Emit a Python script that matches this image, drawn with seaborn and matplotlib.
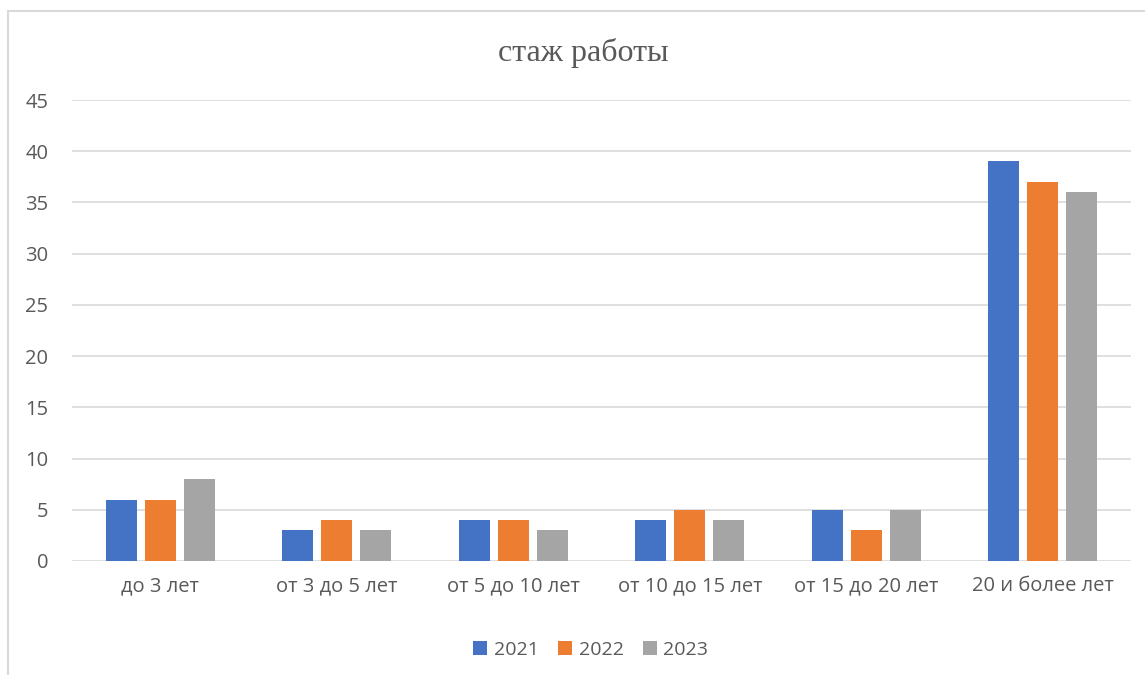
import pandas as pd
import matplotlib.pyplot as plt
import seaborn as sns
from matplotlib.patches import Rectangle

categories = ["до 3 лет", "от 3 до 5 лет", "от 5 до 10 лет",
              "от 10 до 15 лет", "от 15 до 20 лет", "20 и более лет"]
years = ["2021", "2022", "2023"]
v2021 = [6, 3, 4, 4, 5, 39]
v2022 = [6, 4, 4, 5, 3, 37]
v2023 = [8, 3, 3, 4, 5, 36]
colors = ["#4472C4", "#ED7D31", "#A5A5A5"]

rows = []
for year, vals in zip(years, [v2021, v2022, v2023]):
    for cat, v in zip(categories, vals):
        rows.append({"cat": cat, "year": year, "value": v})
df = pd.DataFrame(rows)

sns.set_style("white")
plt.rcParams['font.family'] = ['Open Sans', 'DejaVu Sans']
text_color = "#595959"
grid_color = "#d9d9d9"

fig = plt.figure(figsize=(11.45, 6.75), dpi=100)
ax = fig.add_axes([72 / 1145, 1 - 561 / 675, (1131 - 72) / 1145, (561 - 100) / 675])

sns.barplot(data=df, x="cat", y="value", hue="year", palette=colors,
            width=0.66, gap=0.2, order=categories, hue_order=years,
            saturation=1, linewidth=0, ax=ax, zorder=3)

ax.set_ylim(0, 45)
ax.set_xlim(-0.5, len(categories) - 0.5)
ax.set_yticks(range(0, 46, 5))
ax.yaxis.grid(True, color=grid_color, linewidth=1.2, zorder=0)
ax.set_axisbelow(True)
for s in ax.spines.values():
    s.set_visible(False)
ax.tick_params(axis="both", length=0, labelsize=14.5, colors=text_color)
ax.tick_params(axis="x", pad=11)
ax.tick_params(axis="y", pad=17)
ax.set_xlabel("")
ax.set_ylabel("")

leg = ax.legend(loc="upper center", bbox_to_anchor=(0.49, -0.135), ncol=3,
                frameon=False, fontsize=14, handlelength=0.7, handleheight=0.7,
                handletextpad=0.35, columnspacing=1.0)
for t in leg.get_texts():
    t.set_color(text_color)

fig.text(0.509, 1 - 53 / 675, "стаж работы", ha="center", va="center",
         fontsize=23, color=text_color, family=["Liberation Serif", "DejaVu Serif"])

fig.patches.append(Rectangle((8 / 1145, -0.1), 1.2, 1 - 11 / 675 + 0.1,
                             transform=fig.transFigure, fill=False,
                             edgecolor=grid_color, linewidth=1.5))

fig.savefig("out.png", dpi=100)
